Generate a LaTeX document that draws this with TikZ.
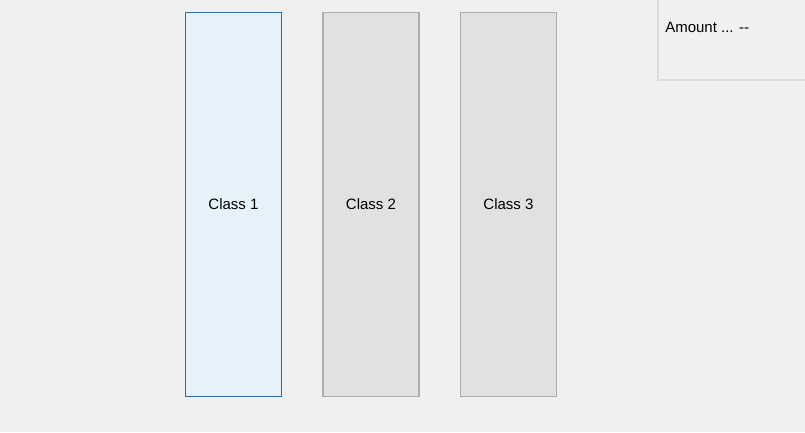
\documentclass[tikz,border=0pt]{standalone}
\usepackage{fontspec}
\setmainfont{Liberation Sans}
\usetikzlibrary{positioning}
\definecolor{formbg}{HTML}{F0F0F0}
\definecolor{btnfill}{HTML}{E1E1E1}
\definecolor{btnline}{HTML}{ADADAD}
\definecolor{selfill}{HTML}{E5F1FB}
\definecolor{selline}{HTML}{0078D7}
\definecolor{panelline}{HTML}{DCDCDC}

\begin{document}
\begin{tikzpicture}[x=0.75pt,y=-0.75pt,node distance=103.1pt,
                    font=\fontsize{11.25}{13}\selectfont,
                    classbox/.style={draw=btnline,fill=btnfill,line width=0.9pt,
                      minimum width=72pt,minimum height=288pt,inner sep=0pt},
                    selected/.style={draw=selline,fill=selfill}]

\fill[formbg] (0,0) rectangle (805,432);
\useasboundingbox (0,0) rectangle (805,432);

% info panel, top right
\draw[panelline,line width=0.9pt] (658,-5) rectangle (820,80);
\node[anchor=west,inner sep=0pt] (amount) at (665,27) {Amount ... -{}-};

\node[classbox,selected] (c1) at (233.5,204.5) {Class 1};
\node[classbox] (c2) [right of=c1] {Class 2};
\node[classbox] (c3) [right of=c2] {Class 3};
\end{tikzpicture}
\end{document}
